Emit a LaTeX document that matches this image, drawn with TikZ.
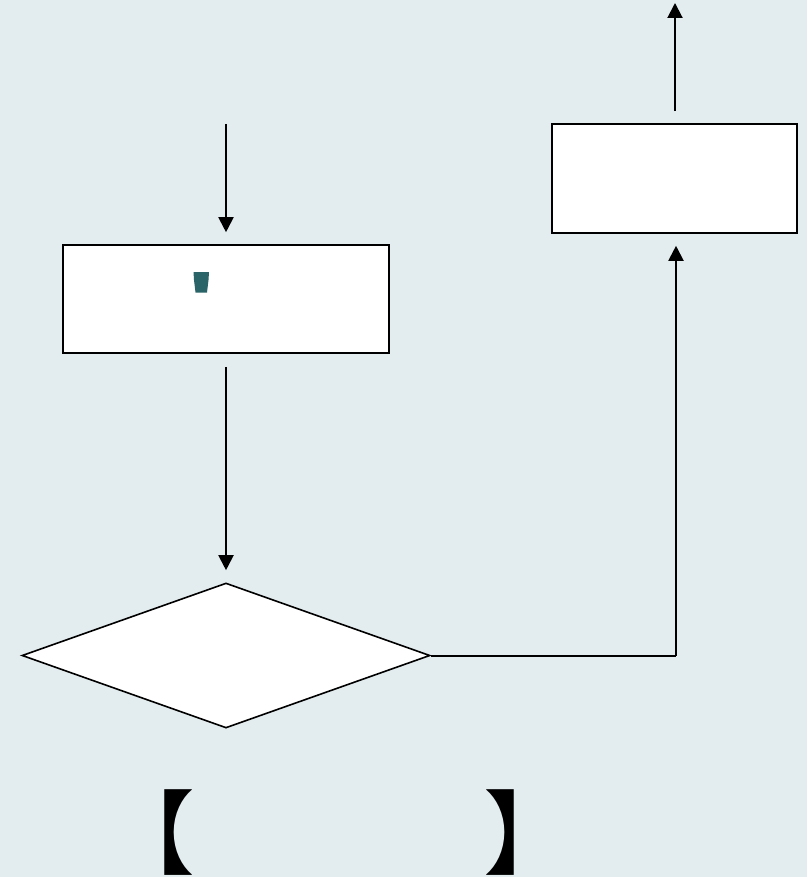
\documentclass[tikz,border=0pt]{standalone}
\usepackage{fontspec}
\newfontfamily\cjk{Noto Sans CJK SC}
\usetikzlibrary{shapes.geometric,arrows.meta}
\definecolor{bgc}{HTML}{E3ECEE}
\definecolor{teal1}{HTML}{2B6468}
\tikzset{
  box/.style={draw=black,fill=white,line width=1.6pt,inner sep=0pt},
  dia/.style={diamond,draw=black,fill=white,line width=1.6pt,inner sep=0pt},
  conn/.style={draw=black,line width=2pt,-{Triangle[length=15pt,width=15pt]}},
  plain/.style={draw=black,line width=2pt},
  brk/.style={inner sep=0pt,font=\cjk\fontsize{92}{92}\selectfont}
}
\begin{document}
\begin{tikzpicture}[x=1pt,y=-1pt]
\fill[bgc] (0,0) rectangle (807,877);
\useasboundingbox (0,0) rectangle (807,877);
\node[box,minimum width=326pt,minimum height=108pt] (b1) at (226,299) {};
\node[box,minimum width=245pt,minimum height=109pt] (b2) at (674.5,178.5) {};
\node[dia,minimum width=408pt,minimum height=145pt] (d) at (226,655.5) {};
\coordinate (in) at (226,124);
\coordinate (out) at (675,3);
\coordinate (corner) at (676,655.5);
\fill[teal1] (193.5,272) -- (209,272) -- (208.5,280) -- (207,292.5) -- (195.5,292.5) -- (194,280) -- cycle;
\draw[conn,shorten >=12pt] (in) -- (b1.north);
\draw[conn,shorten <=13pt,shorten >=12pt] (b1.south) -- (d.north);
\draw[plain] (d.east) -- (corner);
\draw[conn,shorten >=12pt] (corner) -- (b2.south -| corner);
\draw[conn,shorten <=12pt] (b2.north -| out) -- (out);
\node[brk] (lb) at (149.5,832.7) {【};
\node[brk] (rb) at (529.5,832.7) {】};
\end{tikzpicture}
\end{document}
